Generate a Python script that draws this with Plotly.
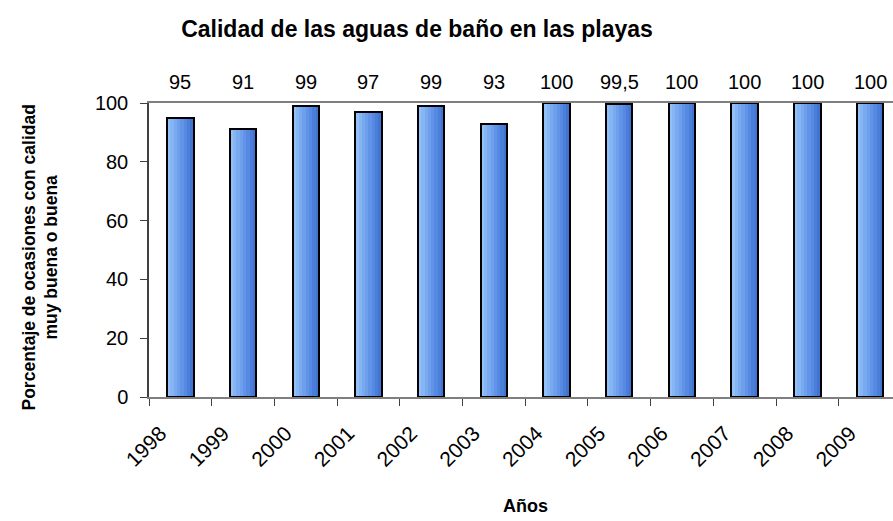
import plotly.graph_objects as go

years = ["1998", "1999", "2000", "2001", "2002", "2003", "2004", "2005", "2006", "2007", "2008", "2009"]
values = [95, 91, 99, 97, 99, 93, 100, 99.5, 100, 100, 100, 100]
labels = ["95", "91", "99", "97", "99", "93", "100", "99,5", "100", "100", "100", "100"]

FONT = "Liberation Sans, Arial, sans-serif"
BAR_W = 0.42
strip_colors = ["#94c0f8", "#86b5f4", "#79aaf0", "#6d9fec", "#6194e7", "#5689e1", "#4b7ed9", "#4173d0"]

fig = go.Figure()
n = len(strip_colors)
for i, c in enumerate(strip_colors):
    fig.add_trace(go.Bar(
        x=years, y=values, width=BAR_W / n, offset=-BAR_W / 2 + i * BAR_W / n,
        marker=dict(color=c, line=dict(width=0)), showlegend=False, hoverinfo="skip"))
fig.add_trace(go.Bar(
    x=years, y=values, width=BAR_W, offset=-BAR_W / 2,
    marker=dict(color="rgba(0,0,0,0)", line=dict(color="black", width=2)),
    showlegend=False))

for i, lab in enumerate(labels):
    fig.add_annotation(x=i, y=1, xref="x", yref="paper", text=lab, showarrow=False,
                       yanchor="bottom", yshift=8, font=dict(family=FONT, size=20, color="black"))

fig.add_annotation(x=0, y=0.5, xref="paper", yref="paper", xshift=-133, yshift=-8,
                   text="<b>Porcentaje de ocasiones con calidad<br>muy buena o buena</b>",
                   textangle=-90, showarrow=False, font=dict(family=FONT, size=17.5, color="black"))
fig.add_annotation(x=0.5, y=0, xref="paper", yref="paper", yshift=-109, xshift=4, yanchor="middle",
                   text="<b>Años</b>", showarrow=False, font=dict(family=FONT, size=18, color="black"))

fig.update_layout(
    width=893, height=521,
    margin=dict(l=149, r=0, t=103, b=124, autoexpand=False),
    paper_bgcolor="white", plot_bgcolor="white",
    barmode="overlay", bargap=0,
    title=dict(text="<b>Calidad de las aguas de baño en las playas</b>", x=417 / 893, xanchor="center",
               y=1 - 29 / 521, yanchor="middle", font=dict(family=FONT, size=23, color="black")),
    font=dict(family=FONT, size=20, color="black"),
    xaxis=dict(type="category", range=[-0.5, 11.366], showline=True, linecolor="#7f7f7f", linewidth=1.5,
               mirror=True, ticks="outside", ticklen=7, tickcolor="#404040", tickson="boundaries",
               tickangle=-45, showgrid=False, automargin=False, ticklabelstandoff=14, ticklabelshift=-20,
               tickfont=dict(family=FONT, size=21, color="black")),
    yaxis=dict(range=[0, 100], tickvals=[0, 20, 40, 60, 80, 100], showline=True, linecolor="#404040",
               linewidth=1.5, ticks="outside", ticklen=7, tickcolor="#404040", showgrid=False,
               zeroline=False, automargin=False, ticklabelstandoff=8,
               tickfont=dict(family=FONT, size=20, color="black")),
)

fig.write_html("out.html", config={"displayModeBar": False},
               post_script="document.body.style.margin='0';")
